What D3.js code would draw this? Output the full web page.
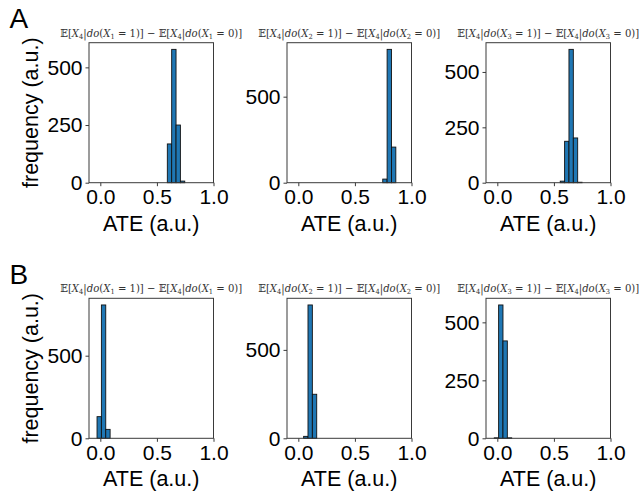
<!DOCTYPE html>
<html>
<head>
<meta charset="utf-8">
<script src="https://cdn.jsdelivr.net/npm/d3@7"></script>
<style>
  html, body { margin: 0; padding: 0; background: #fff; }
  svg { display: block; }
</style>
</head>
<body>
<script>
// ---- data: histogram bins of the estimated average treatment effect ----
const rowLabels = ["A", "B"];
const treatIndex = [1, 2, 3];          // X_1, X_2, X_3 in each column
const binWidth = 0.0385;               // width of one histogram bin (ATE units)
const xTickValues = [0, 0.5, 1];

// row A: left edge of the first non-empty bin and the bin counts
const binStartA = [0.592, 0.746, 0.556];
const countsA1 = [168, 578, 250, 7];
const countsA2 = [21, 775, 207];
const countsA3 = [7, 187, 602, 202, 2];

// row B
const binStartB = [-0.029, 0.047, -0.027];
const countsB1 = [131, 807, 54];
const countsB2 = [11, 754, 249];
const countsB3 = [2, 575, 420, 2];

const yTicksA = [[0, 250, 500], [0, 500], [0, 250, 500]];
const yTicksB = [[0, 500], [0, 500], [0, 250, 500]];

const xDomain = [-0.1, 1.0];

// ---- layout ----
const W = 642, H = 492;
const colLeft = [89, 287, 486];
const plotW = 124.5;
const rowTop = [42.7, 298.3];
const plotH = 140;

const svg = d3.select("body").append("svg")
  .attr("width", W).attr("height", H);

const sans = "'Liberation Sans', Arial, Helvetica, sans-serif";
const serif = "'DejaVu Serif', 'Liberation Serif', serif";

const rows = [
  { label: rowLabels[0], starts: binStartA, counts: [countsA1, countsA2, countsA3], yTicks: yTicksA },
  { label: rowLabels[1], starts: binStartB, counts: [countsB1, countsB2, countsB3], yTicks: yTicksB }
];

rows.forEach((row, r) => {
  const top = rowTop[r];

  // panel letter
  svg.append("text")
    .attr("x", 9.5).attr("y", top - 14.5)
    .attr("font-family", sans).attr("font-size", 28)
    .attr("fill", "#000")
    .text(row.label);

  // shared y label for the row
  svg.append("text")
    .attr("transform", `translate(${37.5},${top + plotH / 2}) rotate(-90)`)
    .attr("text-anchor", "middle")
    .attr("font-family", sans).attr("font-size", 21.5)
    .attr("fill", "#000")
    .text("frequency (a.u.)");

  row.counts.forEach((counts, c) => {
    const left = colLeft[c];
    const bins = counts.map((n, i) => ({
      x0: row.starts[c] + i * binWidth,
      x1: row.starts[c] + (i + 1) * binWidth,
      n
    }));

    const x = d3.scaleLinear().domain(xDomain).range([left, left + plotW]);
    const yMax = d3.max(counts) * 1.05;
    const y = d3.scaleLinear().domain([0, yMax]).range([top + plotH, top]);

    const g = svg.append("g");

    // bars
    g.selectAll("rect.bar").data(bins).join("rect")
      .attr("class", "bar")
      .attr("x", d => x(d.x0))
      .attr("width", d => x(d.x1) - x(d.x0))
      .attr("y", d => y(d.n))
      .attr("height", d => y(0) - y(d.n))
      .attr("fill", "#1f77b4")
      .attr("stroke", "#111")
      .attr("stroke-width", 0.9);

    // frame
    g.append("rect")
      .attr("x", left).attr("y", top)
      .attr("width", plotW).attr("height", plotH)
      .attr("fill", "none")
      .attr("stroke", "#3a3a3a").attr("stroke-width", 1);

    // x axis
    const xAxis = g.append("g")
      .attr("transform", `translate(0,${top + plotH})`)
      .call(d3.axisBottom(x).tickValues(xTickValues)
        .tickFormat(d3.format(".1f")).tickSize(3.5).tickPadding(3));
    xAxis.select(".domain").remove();
    xAxis.selectAll("line").attr("stroke", "#3a3a3a");
    xAxis.selectAll("text")
      .attr("font-family", sans).attr("font-size", 21)
      .attr("fill", "#000");

    // y axis
    const yAxis = g.append("g")
      .attr("transform", `translate(${left},0)`)
      .call(d3.axisLeft(y).tickValues(row.yTicks[c])
        .tickFormat(d3.format("d")).tickSize(3.5).tickPadding(3));
    yAxis.select(".domain").remove();
    yAxis.selectAll("line").attr("stroke", "#3a3a3a");
    yAxis.selectAll("text")
      .attr("font-family", sans).attr("font-size", 21)
      .attr("fill", "#000");

    // x label
    g.append("text")
      .attr("x", left + plotW / 2).attr("y", top + plotH + 48)
      .attr("text-anchor", "middle")
      .attr("font-family", sans).attr("font-size", 21.5)
      .attr("fill", "#000")
      .text("ATE (a.u.)");

    // title: E[X4 | do(Xk = 1)] - E[X4 | do(Xk = 0)]
    const k = treatIndex[c];
    const t = g.append("text")
      .attr("x", left + plotW / 2).attr("y", top - 6)
      .attr("text-anchor", "middle")
      .attr("font-family", serif).attr("font-size", 10.5)
      .attr("fill", "#333")
      .attr("textLength", 182).attr("lengthAdjust", "spacingAndGlyphs");
    const part = (val) => {
      t.append("tspan").text("\u{1D53C}[");
      t.append("tspan").attr("font-style", "italic").text("X");
      t.append("tspan").attr("font-size", 7).attr("dy", 2).text("4");
      t.append("tspan").attr("dy", -2).text("|");
      t.append("tspan").attr("font-style", "italic").text("do");
      t.append("tspan").text("(");
      t.append("tspan").attr("font-style", "italic").text("X");
      t.append("tspan").attr("font-size", 7).attr("dy", 2).text(String(k));
      t.append("tspan").attr("dy", -2).text(` = ${val})]`);
    };
    part(1);
    t.append("tspan").text(" \u2212 ");
    part(0);
  });
});
</script>
</body>
</html>
